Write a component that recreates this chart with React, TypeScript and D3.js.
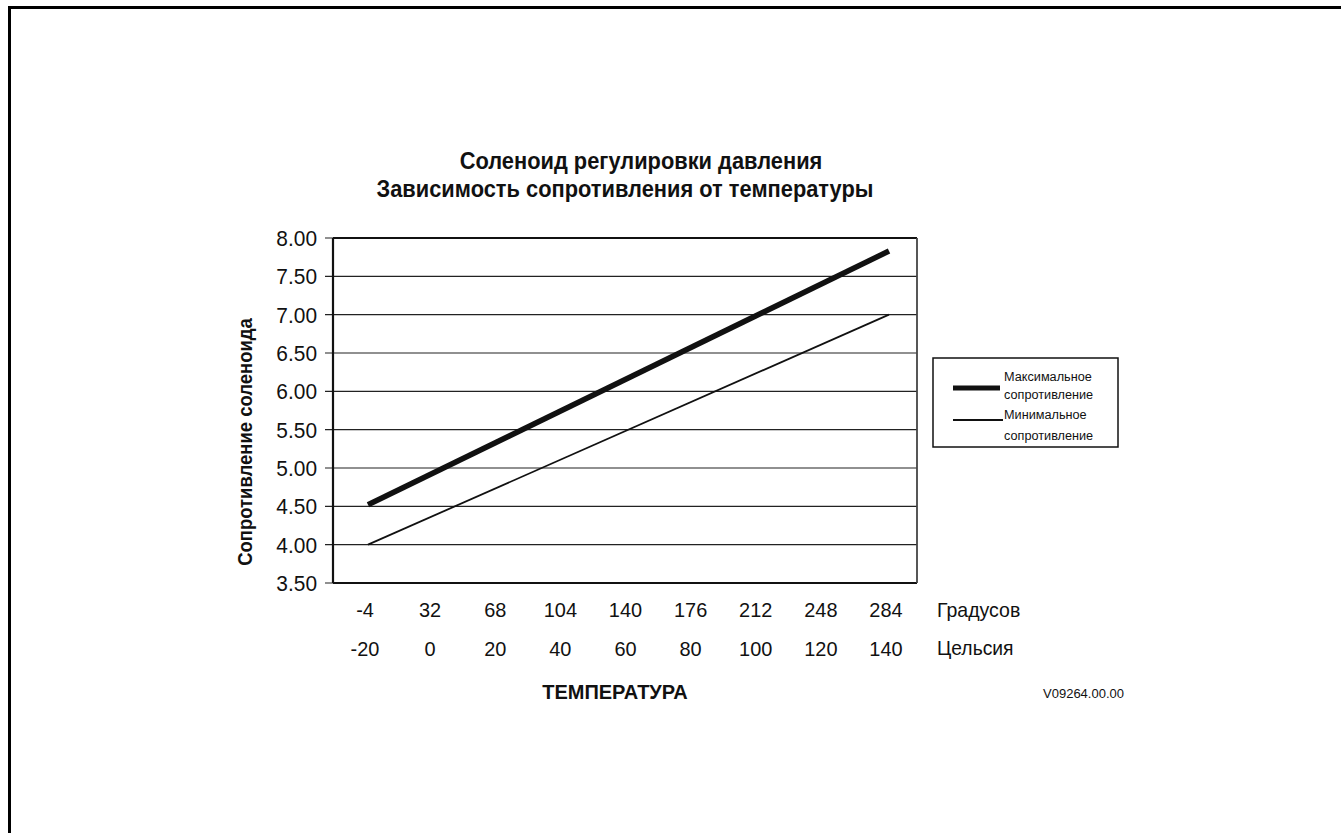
import React from "react";
import * as d3 from "d3";

const celsiusTicks = [-20, 0, 20, 40, 60, 80, 100, 120, 140];
const fahrenheitTicks = [-4, 32, 68, 104, 140, 176, 212, 248, 284];
const yTicks = [3.5, 4.0, 4.5, 5.0, 5.5, 6.0, 6.5, 7.0, 7.5, 8.0];
const maxResistance = [
  { c: -20, r: 4.52 },
  { c: 140, r: 7.83 },
];
const minResistance = [
  { c: -20, r: 4.0 },
  { c: 140, r: 7.0 },
];
const legendLines = [
  ["Максимальное", "сопротивление"],
  ["Минимальное", "сопротивление"],
];

const FONT = "'Liberation Sans', Arial, Helvetica, sans-serif";

function T(props: {
  x: number; y: number; sx?: number; size: number; anchor?: string; bold?: boolean; rotate?: number; children: React.ReactNode;
}) {
  const { x, y, sx = 1, size, anchor = "start", bold, rotate = 0, children } = props;
  return (
    <text
      transform={`translate(${x},${y}) rotate(${rotate}) scale(${sx},1)`}
      textAnchor={anchor}
      fontSize={size}
      fontWeight={bold ? "bold" : "normal"}
      fill="#111"
    >
      {children}
    </text>
  );
}

export default function App() {
  const W = 1341, H = 833;
  const plotL = 333, plotR = 917, plotT = 238, plotB = 583;
  const x = d3.scaleLinear().domain([-20, 140]).range([368, 889]);
  const y = d3.scaleLinear().domain([3.5, 8.0]).range([plotB, plotT]);
  const line = d3.line<{ c: number; r: number }>().x(d => x(d.c)).y(d => y(d.r));

  return (
    <svg width={W} height={H} style={{ position: "absolute", left: 0, top: 0, background: "#fff" }} fontFamily={FONT}>
      <rect x={9.5} y={7.5} width={2000} height={2000} fill="none" stroke="#000" strokeWidth={3} />
      <T x={641} y={169} size={23} sx={0.95} anchor="middle" bold>Соленоид регулировки давления</T>
      <T x={625} y={197} size={23} sx={0.95} anchor="middle" bold>Зависимость сопротивления от температуры</T>

      {yTicks.map(t => (
        <line key={"g" + t} x1={325} x2={plotR} y1={y(t)} y2={y(t)} stroke="#222" strokeWidth={1.2} />
      ))}
      <line x1={plotL} x2={plotL} y1={plotT} y2={plotB} stroke="#111" strokeWidth={2.2} />
      <line x1={plotL} x2={plotR} y1={plotB} y2={plotB} stroke="#111" strokeWidth={2.2} />
      <line x1={plotL} x2={plotR} y1={plotT} y2={plotT} stroke="#111" strokeWidth={1.8} />
      <line x1={plotR} x2={plotR} y1={plotT} y2={plotB} stroke="#444" strokeWidth={1.8} />

      {yTicks.map(t => (
        <T key={"yl" + t} x={317} y={y(t) + 8} size={22} sx={0.95} anchor="end">{t.toFixed(2)}</T>
      ))}

      <path d={line(maxResistance) ?? ""} fill="none" stroke="#111" strokeWidth={5.5} />
      <path d={line(minResistance) ?? ""} fill="none" stroke="#111" strokeWidth={1.8} />

      {fahrenheitTicks.map((f, i) => (
        <T key={"f" + f} x={x(celsiusTicks[i]) - 3} y={617} size={21} sx={0.95} anchor="middle">{f}</T>
      ))}
      {celsiusTicks.map(c => (
        <T key={"c" + c} x={x(c) - 3} y={656} size={21} sx={0.95} anchor="middle">{c}</T>
      ))}
      <T x={937} y={617} size={21} sx={0.93}>Градусов</T>
      <T x={937} y={655} size={21} sx={0.92}>Цельсия</T>
      <T x={615} y={699} size={20} anchor="middle" bold>ТЕМПЕРАТУРА</T>
      <T x={1124} y={698} size={13} anchor="end">V09264.00.00</T>

      <T x={252} y={442} size={21} sx={0.88} rotate={-90} anchor="middle" bold>Сопротивление соленоида</T>

      <rect x={933} y={358} width={185} height={89} fill="#fff" stroke="#111" strokeWidth={1.5} />
      <line x1={953} x2={1000} y1={388} y2={388} stroke="#111" strokeWidth={5} />
      <line x1={953} x2={1003} y1={420} y2={420} stroke="#111" strokeWidth={1.8} />
      <T x={1004} y={381} size={13.5} sx={0.94}>{legendLines[0][0]}</T>
      <T x={1004} y={399} size={13.5} sx={0.94}>{legendLines[0][1]}</T>
      <T x={1004} y={419} size={13.5} sx={0.94}>{legendLines[1][0]}</T>
      <T x={1004} y={440} size={13.5} sx={0.94}>{legendLines[1][1]}</T>
    </svg>
  );
}
